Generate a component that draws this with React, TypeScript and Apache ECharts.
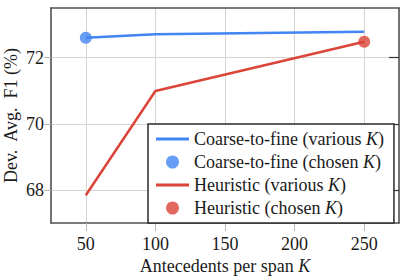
import React, { useEffect, useRef } from "react";
import * as echarts from "echarts";

const kValues = [50, 100, 250];
const coarseF1 = [72.6, 72.71, 72.78];
const heuristicF1 = [67.84, 70.99, 72.48];
const coarseChosen = [50, 72.6];
const heuristicChosen = [250, 72.48];
const xTicks = [50, 100, 150, 200, 250];
const yTicks = [68, 70, 72];
const seriesNames = [
  "Coarse-to-fine (various K)",
  "Coarse-to-fine (chosen K)",
  "Heuristic (various K)",
  "Heuristic (chosen K)",
];

const BLUE = "#4285f4";
const RED = "#db4437";
const FONT = "'Liberation Serif', 'Times New Roman', serif";
const GRID_COLOR = "#d4d4d4";
const FRAME = "#505050";

export default function App() {
  const ref = useRef<HTMLDivElement>(null);
  useEffect(() => {
    const chart = echarts.init(ref.current!, null, { renderer: "svg" });
    const italic = { fontStyle: "italic", fontFamily: FONT, fontSize: 18, color: "#1a1a1a" };
    const num = { fontFamily: FONT, fontSize: 18, color: "#1a1a1a" };
    chart.setOption({
      animation: false,
      textStyle: { fontFamily: FONT, fontSize: 18, color: "#1a1a1a" },
      grid: { left: 51, right: 2, top: 8, bottom: 53, containLabel: false, outerBoundsMode: "none" },
      xAxis: [
        {
          type: "value",
          min: 25,
          max: 275,
          name: "Antecedents per span {i|K}",
          nameLocation: "middle",
          nameGap: 34,
          nameMoveOverlap: false,
          nameTextStyle: { fontFamily: FONT, fontSize: 18, color: "#1a1a1a", rich: { i: italic } },
          axisLine: { show: true, onZero: false, lineStyle: { color: FRAME, width: 1.6 } },
          axisTick: { show: true, inside: false, length: 8, customValues: xTicks, lineStyle: { color: "#b8b8b8", width: 1 } },
          axisLabel: {
            customValues: xTicks,
            margin: 12,
            fontFamily: FONT,
            fontSize: 18,
            color: "#1a1a1a",
            formatter: (v: number) => "{n|" + v + "}",
            rich: { n: num },
          },
          splitLine: { show: true, lineStyle: { color: GRID_COLOR, width: 1 } },
        },
        {
          type: "value",
          position: "top",
          min: 25,
          max: 275,
          axisLine: { show: true, onZero: false, lineStyle: { color: FRAME, width: 1.6 } },
          axisTick: { show: false },
          axisLabel: { show: false },
          splitLine: { show: false },
        },
      ],
      yAxis: [
        {
          type: "value",
          min: 67,
          max: 73.5,
          name: "Dev.  Avg.  F1 (%)",
          nameLocation: "middle",
          nameGap: 31,
          nameMoveOverlap: false,
          nameTextStyle: { fontFamily: FONT, fontSize: 18, color: "#1a1a1a" },
          axisLine: { show: true, onZero: false, lineStyle: { color: FRAME, width: 1.6 } },
          axisTick: { show: true, inside: false, length: 7, customValues: yTicks, lineStyle: { color: "#b8b8b8", width: 1 } },
          axisLabel: {
            customValues: yTicks,
            margin: 7,
            fontFamily: FONT,
            fontSize: 18,
            color: "#1a1a1a",
            formatter: (v: number) => "{n|" + v + "}",
            rich: { n: num },
          },
          splitLine: { show: true, lineStyle: { color: GRID_COLOR, width: 1 } },
        },
        {
          type: "value",
          position: "right",
          min: 67,
          max: 73.5,
          axisLine: { show: true, onZero: false, lineStyle: { color: FRAME, width: 1.6 } },
          axisTick: { show: true, inside: true, length: 10, customValues: yTicks, lineStyle: { color: "#333", width: 1.2 } },
          axisLabel: { show: false },
          splitLine: { show: false },
        },
      ],
      legend: {
        orient: "vertical",
        left: 148,
        top: 124,
        padding: [6, 10, 6, 8],
        itemGap: 5,
        itemWidth: 33,
        itemHeight: 13,
        backgroundColor: "#fff",
        borderColor: "#2a2a2a",
        borderWidth: 1.5,
        borderRadius: 0,
        textStyle: { fontFamily: FONT, fontSize: 18, color: "#1a1a1a", rich: { i: italic } },
        formatter: (name: string) => name.replace("K)", "{i|K})"),
        data: [
          { name: seriesNames[0], icon: "path://M0,0H33V3H0Z" },
          { name: seriesNames[1], icon: "circle" },
          { name: seriesNames[2], icon: "path://M0,0H33V3H0Z" },
          { name: seriesNames[3], icon: "circle" },
        ],
      },
      series: [
        {
          name: seriesNames[0],
          type: "line",
          data: kValues.map((k, i) => [k, coarseF1[i]]),
          showSymbol: false,
          symbol: "none",
          lineStyle: { color: BLUE, width: 2.5 },
          itemStyle: { color: BLUE },
          z: 3,
        },
        {
          name: seriesNames[1],
          type: "scatter",
          data: [coarseChosen],
          symbol: "circle",
          symbolSize: 12,
          itemStyle: { color: BLUE },
          z: 4,
        },
        {
          name: seriesNames[2],
          type: "line",
          data: kValues.map((k, i) => [k, heuristicF1[i]]),
          showSymbol: false,
          symbol: "none",
          lineStyle: { color: RED, width: 2.5 },
          itemStyle: { color: RED },
          z: 3,
        },
        {
          name: seriesNames[3],
          type: "scatter",
          data: [heuristicChosen],
          symbol: "circle",
          symbolSize: 12,
          itemStyle: { color: RED },
          z: 4,
        },
      ],
    });
    return () => chart.dispose();
  }, []);
  return (
    <div
      ref={ref}
      style={{ position: "absolute", left: 0, top: 0, width: 401, height: 276, background: "#fff" }}
    />
  );
}
